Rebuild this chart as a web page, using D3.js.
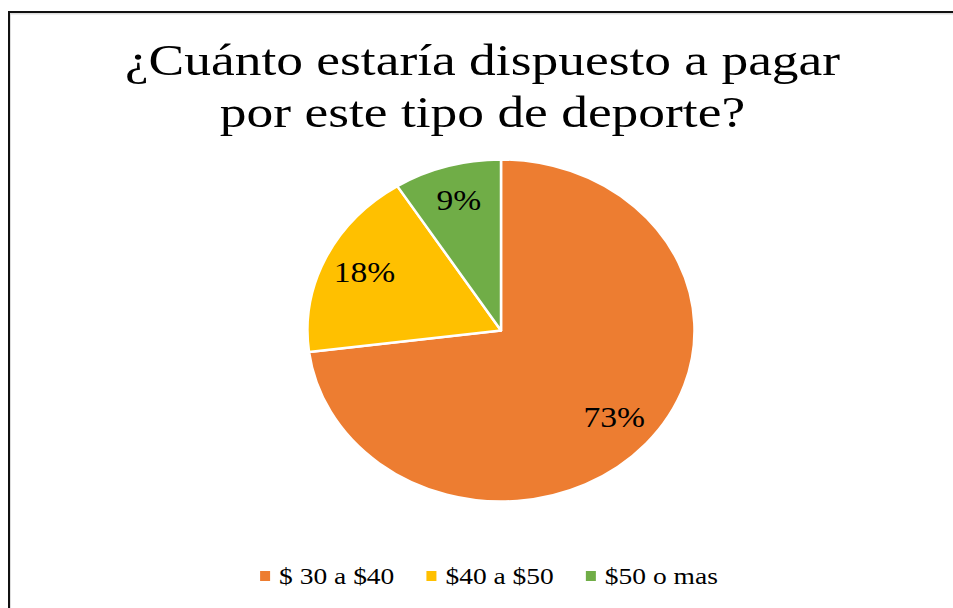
<!DOCTYPE html>
<html>
<head>
<meta charset="utf-8">
<script src="https://cdn.jsdelivr.net/npm/d3@7"></script>
<style>
  html, body { margin: 0; padding: 0; background: #fff; }
  svg { display: block; }
  text { font-family: "Liberation Serif", "Times New Roman", serif; fill: #000; }
</style>
</head>
<body>
<svg id="chart" width="953" height="608"></svg>
<script>
// chart data
const titleLines = ['¿Cuánto estaría dispuesto a pagar', 'por este tipo de deporte?'];
const categories = ['$ 30 a $40', '$40 a $50', '$50 o mas'];
const values = [73, 18, 9];
const colours = ['#ED7D31', '#FFC000', '#70AD47'];

const svg = d3.select('#chart');
const width = +svg.attr('width');
const height = +svg.attr('height');

// frame (only top and left edges show in the crop)
svg.append('path')
  .attr('d', `M10,${height} V13.5 H${width}`)
  .attr('fill', 'none')
  .attr('stroke', '#ddd')
  .attr('stroke-width', 2);
svg.append('path')
  .attr('d', `M9,${height} V12 H${width}`)
  .attr('fill', 'none')
  .attr('stroke', '#111')
  .attr('stroke-width', 2);

// title, a bit stretched horizontally like the source image
const titleG = svg.append('g').attr('class', 'title');
titleG.selectAll('text').data(titleLines)
  .join('text')
    .attr('text-anchor', 'middle')
    .attr('font-size', 44)
    .attr('transform', (d, i) => `translate(482.5,${75 + i * 51.5}) scale(1.215,1)`)
    .text(d => d);

// pie (ellipse, since the source is stretched)
const cx = 501, cy = 330.5;
const rx = 193.5, ry = 171;
const sy = ry / rx;

const data = categories.map((c, i) => ({ cat: c, value: values[i], colour: colours[i] }));

const pie = d3.pie()
  .sort(null)
  .value(d => d.value);
const arcs = pie(data);

const arc = d3.arc().innerRadius(0).outerRadius(rx);
const labelArc = d3.arc().innerRadius(rx * 0.78).outerRadius(rx * 0.78);

const pieG = svg.append('g')
  .attr('transform', `translate(${cx},${cy}) scale(1,${sy})`);

pieG.selectAll('path').data(arcs)
  .join('path')
    .attr('d', arc)
    .attr('fill', d => d.data.colour)
    .attr('stroke', '#fff')
    .attr('stroke-width', 2.5)
    .attr('vector-effect', 'non-scaling-stroke')
    .attr('stroke-linejoin', 'round');

svg.append('g').selectAll('text').data(arcs)
  .join('text')
    .attr('text-anchor', 'middle')
    .attr('font-size', 30)
    .attr('transform', d => {
      const [x, y] = labelArc.centroid(d);
      return `translate(${cx + x},${cy + y * sy + 8}) scale(1.12,1)`;
    })
    .text(d => d.data.value + '%');

// legend
const legendG = svg.append('g').attr('class', 'legend');
const items = legendG.selectAll('g').data(data)
  .join('g');
items.append('rect')
  .attr('width', 10)
  .attr('height', 10)
  .attr('y', 571)
  .attr('fill', d => d.colour);
items.append('text')
  .attr('font-size', 23.5)
  .attr('y', 0)
  .text(d => d.cat);

// lay out legend items side by side and centre them
const sx = 1.17;
const boxGap = 9, itemGap = 32;
let xPos = 0;
const offsets = [];
items.each(function() {
  const t = d3.select(this).select('text');
  const w = t.node().getComputedTextLength() * sx;
  offsets.push(xPos);
  xPos += 10 + boxGap + w + itemGap;
});
const total = xPos - itemGap;
const start = 489 - total / 2;
items.each(function(d, i) {
  const g = d3.select(this);
  const x0 = start + offsets[i];
  g.select('rect').attr('x', x0);
  g.select('text').attr('transform', `translate(${x0 + 10 + boxGap},584) scale(${sx},1)`);
});
</script>
</body>
</html>
